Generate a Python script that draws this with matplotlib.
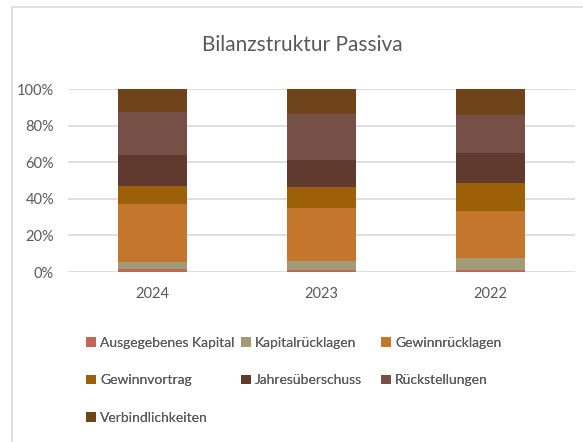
import matplotlib.pyplot as plt
from matplotlib.patches import Rectangle
from matplotlib.ticker import PercentFormatter
import numpy as np

plt.rcParams['font.family'] = ['Lato', 'DejaVu Sans']

# Data (shares in percent)
years = ['2024', '2023', '2022']
series = ['Ausgegebenes Kapital', 'Kapitalrücklagen', 'Gewinnrücklagen',
          'Gewinnvortrag', 'Jahresüberschuss', 'Rückstellungen',
          'Verbindlichkeiten']
ausgegebenes_kapital = [1.5, 1.1, 1.1]
kapitalruecklagen = [4.1, 4.9, 6.7]
gewinnruecklagen = [31.4, 29.0, 25.5]
gewinnvortrag = [10.0, 11.6, 15.5]
jahresueberschuss = [16.9, 14.6, 16.4]
rueckstellungen = [23.7, 25.1, 20.6]
verbindlichkeiten = [12.4, 13.7, 14.2]

values = [ausgegebenes_kapital, kapitalruecklagen, gewinnruecklagen,
          gewinnvortrag, jahresueberschuss, rueckstellungen, verbindlichkeiten]
colors = ['#C0665A', '#A39A78', '#C4762D', '#9C6108', '#613A2F',
          '#765047', '#70441A']

text_col = '#595959'
grid_col = '#D9D9D9'

fig = plt.figure(figsize=(5.83, 4.42), dpi=100)
ax = fig.add_axes([0.1166, 0.3846, 0.8696, 0.414])

x = np.arange(len(years))
bottom = np.zeros(len(years))
bars = []
for vals, col, name in zip(values, colors, series):
    v = np.array(vals) / 100.0
    b = ax.bar(x, v, width=0.41, bottom=bottom, color=col, label=name, zorder=2)
    bars.append(b)
    bottom += v

ax.set_xlim(-0.5, 2.5)
ax.set_ylim(0, 1)
ax.set_yticks(np.linspace(0, 1, 6))
ax.yaxis.set_major_formatter(PercentFormatter(1.0, decimals=0))
ax.set_xticks(x)
ax.set_xticklabels(years)
ax.grid(axis='y', color=grid_col, linewidth=1.2, zorder=0)
for s in ax.spines.values():
    s.set_visible(False)
ax.tick_params(length=0, labelsize=10.5, colors=text_col)
ax.tick_params(axis='y', pad=10)
ax.tick_params(axis='x', pad=11)

fig.text(302 / 583, 1 - 45 / 442, 'Bilanzstruktur Passiva', ha='center',
         va='center', fontsize=15, color=text_col)

# chart border (only top and left edges visible in crop)
fig.add_artist(Rectangle((12 / 583, -0.1), 1.2, 1.1 - 7 / 442,
                         transform=fig.transFigure, fill=False,
                         edgecolor=grid_col, linewidth=1.2))

# legend: three columns laid out row by row
cols = [[0, 3, 6], [1, 4], [2, 5]]
col_x = [86, 241, 381]
for cx, idx in zip(col_x, cols):
    leg = fig.legend([bars[i] for i in idx], [series[i] for i in idx],
                     loc='upper left', bbox_to_anchor=(cx / 583, 1 - 337 / 442),
                     frameon=False, fontsize=10, labelcolor=text_col,
                     handlelength=0.7, handleheight=0.7, handletextpad=0.3,
                     labelspacing=1.83, borderaxespad=0, borderpad=0)
    fig.add_artist(leg)

fig.savefig('out.png', dpi=100)
